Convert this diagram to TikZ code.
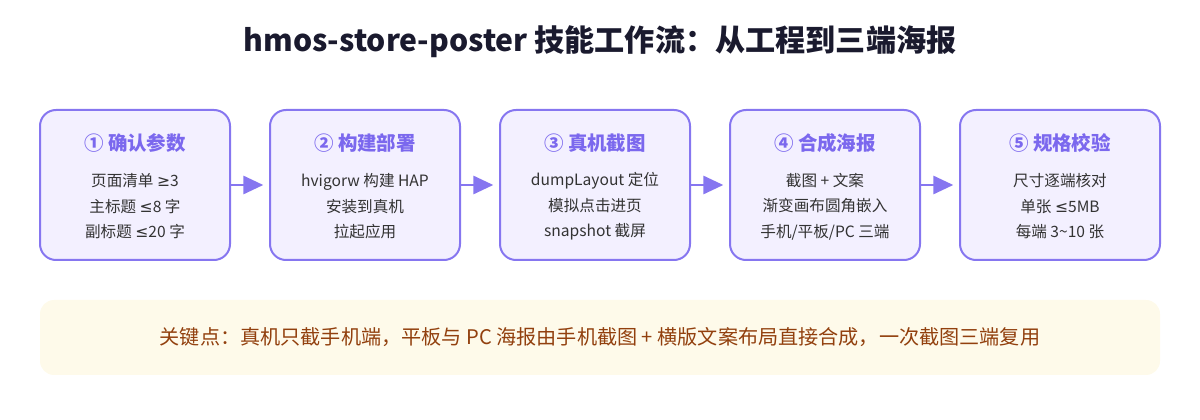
\documentclass[tikz,border=0pt]{standalone}
\usepackage{fontspec}
\setmainfont{Noto Sans CJK SC}
\newfontfamily\mathsym{DejaVu Sans}
\newcommand{\lesym}{{\mathsym ≤}}
\newcommand{\gesym}{{\mathsym ≥}}
\usetikzlibrary{arrows.meta, positioning}
\definecolor{stepbd}{HTML}{8676F0}
\definecolor{stepfill}{HTML}{F3F0FF}
\definecolor{stephd}{HTML}{7B68EE}
\definecolor{bodytxt}{HTML}{333333}
\definecolor{notefill}{HTML}{FEFAEA}
\definecolor{notetxt}{HTML}{92400E}
\definecolor{titletxt}{HTML}{1A1A2E}
\tikzset{
  stepbox/.style = {draw=stepbd, fill=stepfill, rounded corners=12pt, line width=1.5pt,
                    minimum width=142.5pt, minimum height=112.5pt, inner sep=0pt, outer sep=0pt},
  hd/.style      = {font=\fontsize{14.6}{17}\selectfont\bfseries, text=stephd, inner sep=0pt},
  bd/.style      = {font=\fontsize{11.7}{19.1}\selectfont, text=bodytxt, align=center, inner sep=0pt},
  fl/.style      = {-{Triangle[length=15pt, width=13.5pt]}, line width=2.2pt, draw=stepbd,
                    shorten >=5pt},
  note/.style    = {fill=notefill, rounded corners=10.5pt, minimum width=840pt,
                    minimum height=56.25pt, inner sep=0pt, text=notetxt,
                    font=\fontsize{15.1}{18}\selectfont},
  ttl/.style     = {font=\fontsize{22.6}{27}\selectfont\bfseries, text=titletxt, inner sep=0pt},
}

\begin{document}
\begin{tikzpicture}[x=0.75pt, y=-0.75pt, node distance=30pt]
\useasboundingbox (0,0) rectangle (1200,420);
\node[ttl] (title) at (600,42) {hmos-store-poster 技能工作流：从工程到三端海报};

% five steps
\node[stepbox] (s1) at (135,185) {};
\node[stepbox, right=of s1] (s2) {};
\node[stepbox, right=of s2] (s3) {};
\node[stepbox, right=of s3] (s4) {};
\node[stepbox, right=of s4, minimum width=150pt] (s5) {};

\node[hd] (h1) at ([yshift=-24.75pt]s1.north) {① 确认参数};
\node[hd] (h2) at ([yshift=-24.75pt]s2.north) {② 构建部署};
\node[hd] (h3) at ([yshift=-24.75pt]s3.north) {③ 真机截图};
\node[hd] (h4) at ([yshift=-24.75pt]s4.north) {④ 合成海报};
\node[hd] (h5) at ([yshift=-24.75pt]s5.north) {⑤ 规格校验};

\node[bd] (b1) at ([yshift=-16pt]s1.center) {页面清单 \gesym3\\主标题 \lesym8 字\\副标题 \lesym20 字};
\node[bd] (b2) at ([yshift=-16pt]s2.center) {hvigorw 构建 HAP\\安装到真机\\拉起应用};
\node[bd] (b3) at ([yshift=-16pt]s3.center) {dumpLayout 定位\\模拟点击进页\\snapshot 截屏};
\node[bd] (b4) at ([yshift=-16pt]s4.center) {截图 + 文案\\渐变画布圆角嵌入\\手机/平板/PC 三端};
\node[bd] (b5) at ([yshift=-16pt]s5.center) {尺寸逐端核对\\单张 \lesym5MB\\每端 3\textasciitilde10 张};

\draw[fl] (s1)--(s2);
\draw[fl] (s2)--(s3);
\draw[fl] (s3)--(s4);
\draw[fl] (s4)--(s5);

% key point
\node[note] (key) at (600,337.5)
  {关键点：真机只截手机端，平板与 PC 海报由手机截图 + 横版文案布局直接合成，一次截图三端复用};
\end{tikzpicture}
\end{document}
